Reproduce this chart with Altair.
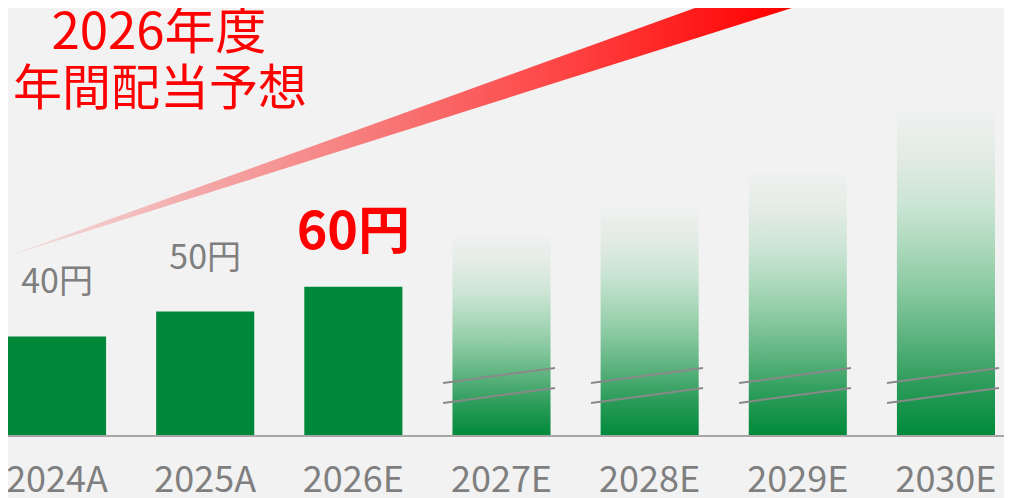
import altair as alt
import pandas as pd

# ---------------- data ----------------
categories = ["2024A", "2025A", "2026E", "2027E", "2028E", "2029E", "2030E"]
dividends = [40, 50, 60, 81.5, 93, 107, 133]
status = ["actual", "actual", "forecast", "outlook", "outlook", "outlook", "outlook"]
value_labels = ["40円", "50円", "60円", "", "", "", ""]
title_lines = ["2026年度", "年間配当予想"]

# rising trend arrow (x in category-index units, y in yen)
trend_x = [-0.351, 5.358]
trend_low = [71.9, 179.4]
trend_high = [71.9, 194.5]

# axis-break marks on outlook bars (two slanted strokes)
break_x_offsets = [-0.392, 0.365]
break_upper_y = [21.3, 27.3]
break_lower_y = [13.3, 19.3]

# ---------------- tables ----------------
df = pd.DataFrame({
    "cat": categories,
    "value": dividends,
    "kind": status,
    "label": value_labels,
    "idx": list(range(len(categories))),
})
trend = pd.DataFrame({"x": trend_x, "lo": trend_low, "hi": trend_high})

brk_rows = []
for i, k in enumerate(status):
    if k == "outlook":
        for ys_ in (break_upper_y, break_lower_y):
            brk_rows.append({
                "x1": i + break_x_offsets[0], "x2": i + break_x_offsets[1],
                "y1": ys_[0], "y2": ys_[1],
            })
brk = pd.DataFrame(brk_rows)

W, H = 987, 428
PAD_R, PAD_B = 9, 62
FONT = "Noto Sans CJK JP"
GRAY = "#7f7f7f"
RED = "#ff0000"

xband = alt.Scale(type="band", domain=categories, paddingInner=0.338, paddingOuter=0)
xb = alt.X("cat:N", scale=xband, axis=None, sort=categories)
ysc = alt.Scale(domain=[0, 172], nice=False, zero=True)
xlin = alt.Scale(domain=[-49 / 148, (W - 49) / 148], nice=False, zero=False)

arrow = alt.Chart(trend).mark_area(
    color=alt.Gradient(
        gradient="linear", x1=0, x2=1, y1=0, y2=0,
        stops=[
            alt.GradientStop(offset=0, color="#f2e4e4"),
            alt.GradientStop(offset=0.23, color="#f4a8a8"),
            alt.GradientStop(offset=0.47, color="#f87272"),
            alt.GradientStop(offset=0.70, color="#ff3a3a"),
            alt.GradientStop(offset=0.92, color="#ff0000"),
            alt.GradientStop(offset=1, color="#ff0000"),
        ],
    )
).encode(
    x=alt.X("x:Q", scale=xlin, axis=None),
    y=alt.Y("lo:Q", scale=ysc, axis=None),
    y2="hi:Q",
)

bars_solid = alt.Chart(df[df["kind"] != "outlook"]).mark_bar(color="#00883a").encode(
    x=xb, y=alt.Y("value:Q", scale=ysc, axis=None)
)

bars_grad = alt.Chart(df[df["kind"] == "outlook"]).mark_bar(
    color=alt.Gradient(
        gradient="linear", x1=0, x2=0, y1=1, y2=0,
        stops=[
            alt.GradientStop(offset=0, color="#008a3a"),
            alt.GradientStop(offset=0.15, color="#2a9b58"),
            alt.GradientStop(offset=0.30, color="#5db37f"),
            alt.GradientStop(offset=0.45, color="#8ccaa3"),
            alt.GradientStop(offset=0.55, color="#a6d6b7"),
            alt.GradientStop(offset=0.70, color="#cbe5d4"),
            alt.GradientStop(offset=0.85, color="#e3ebe5"),
            alt.GradientStop(offset=1, color="#f1f2f1"),
        ],
    )
).encode(x=xb, y=alt.Y("value:Q", scale=ysc, axis=None))

breaks = alt.Chart(brk).mark_rule(color="#898989", strokeWidth=2).encode(
    x=alt.X("x1:Q", scale=xlin, axis=None),
    x2="x2:Q",
    y=alt.Y("y1:Q", scale=ysc, axis=None),
    y2="y2:Q",
)

baseline = alt.Chart(pd.DataFrame({"v": [0]})).mark_rule(
    color="#a6a6a6", strokeWidth=2
).encode(
    y=alt.Y("v:Q", scale=ysc, axis=None),
    x=alt.value(-8),
    x2=alt.value(W + PAD_R),
)

labels_gray = alt.Chart(df[df["kind"] == "actual"]).mark_text(
    font=FONT, fontSize=34, color=GRAY, baseline="alphabetic", align="center", dy=-43
).encode(x=xb, y=alt.Y("value:Q", scale=ysc, axis=None), text="label:N")

labels_red = alt.Chart(df[df["kind"] == "forecast"]).mark_text(
    font=FONT, fontSize=52, fontWeight="bold", color=RED, baseline="alphabetic",
    align="center", dy=-38
).encode(x=xb, y=alt.Y("value:Q", scale=ysc, axis=None), text="label:N")

cat_labels = alt.Chart(df).mark_text(
    font=FONT, fontSize=36, color=GRAY, baseline="alphabetic", align="center"
).encode(x=xb, y=alt.value(484), text="cat:N")

title1 = alt.Chart(pd.DataFrame({"t": [title_lines[0]]})).mark_text(
    font=FONT, fontSize=51, color=RED, baseline="alphabetic", align="center"
).encode(x=alt.value(151), y=alt.value(41), text="t:N")

title2 = alt.Chart(pd.DataFrame({"t": [title_lines[1]]})).mark_text(
    font=FONT, fontSize=49, color=RED, baseline="alphabetic", align="center"
).encode(x=alt.value(152), y=alt.value(97), text="t:N")

chart = alt.layer(
    arrow, bars_solid, bars_grad, breaks, baseline,
    labels_gray, labels_red, cat_labels, title1, title2,
).resolve_scale(x="independent").properties(
    width=W,
    height=H,
    autosize=alt.AutoSizeParams(type="none"),
    padding={"left": 0, "top": 0, "right": PAD_R, "bottom": PAD_B},
    background="#f2f2f2",
).configure_view(strokeWidth=0)

chart.save("out.html", embed_options={"renderer": "svg", "actions": False})
